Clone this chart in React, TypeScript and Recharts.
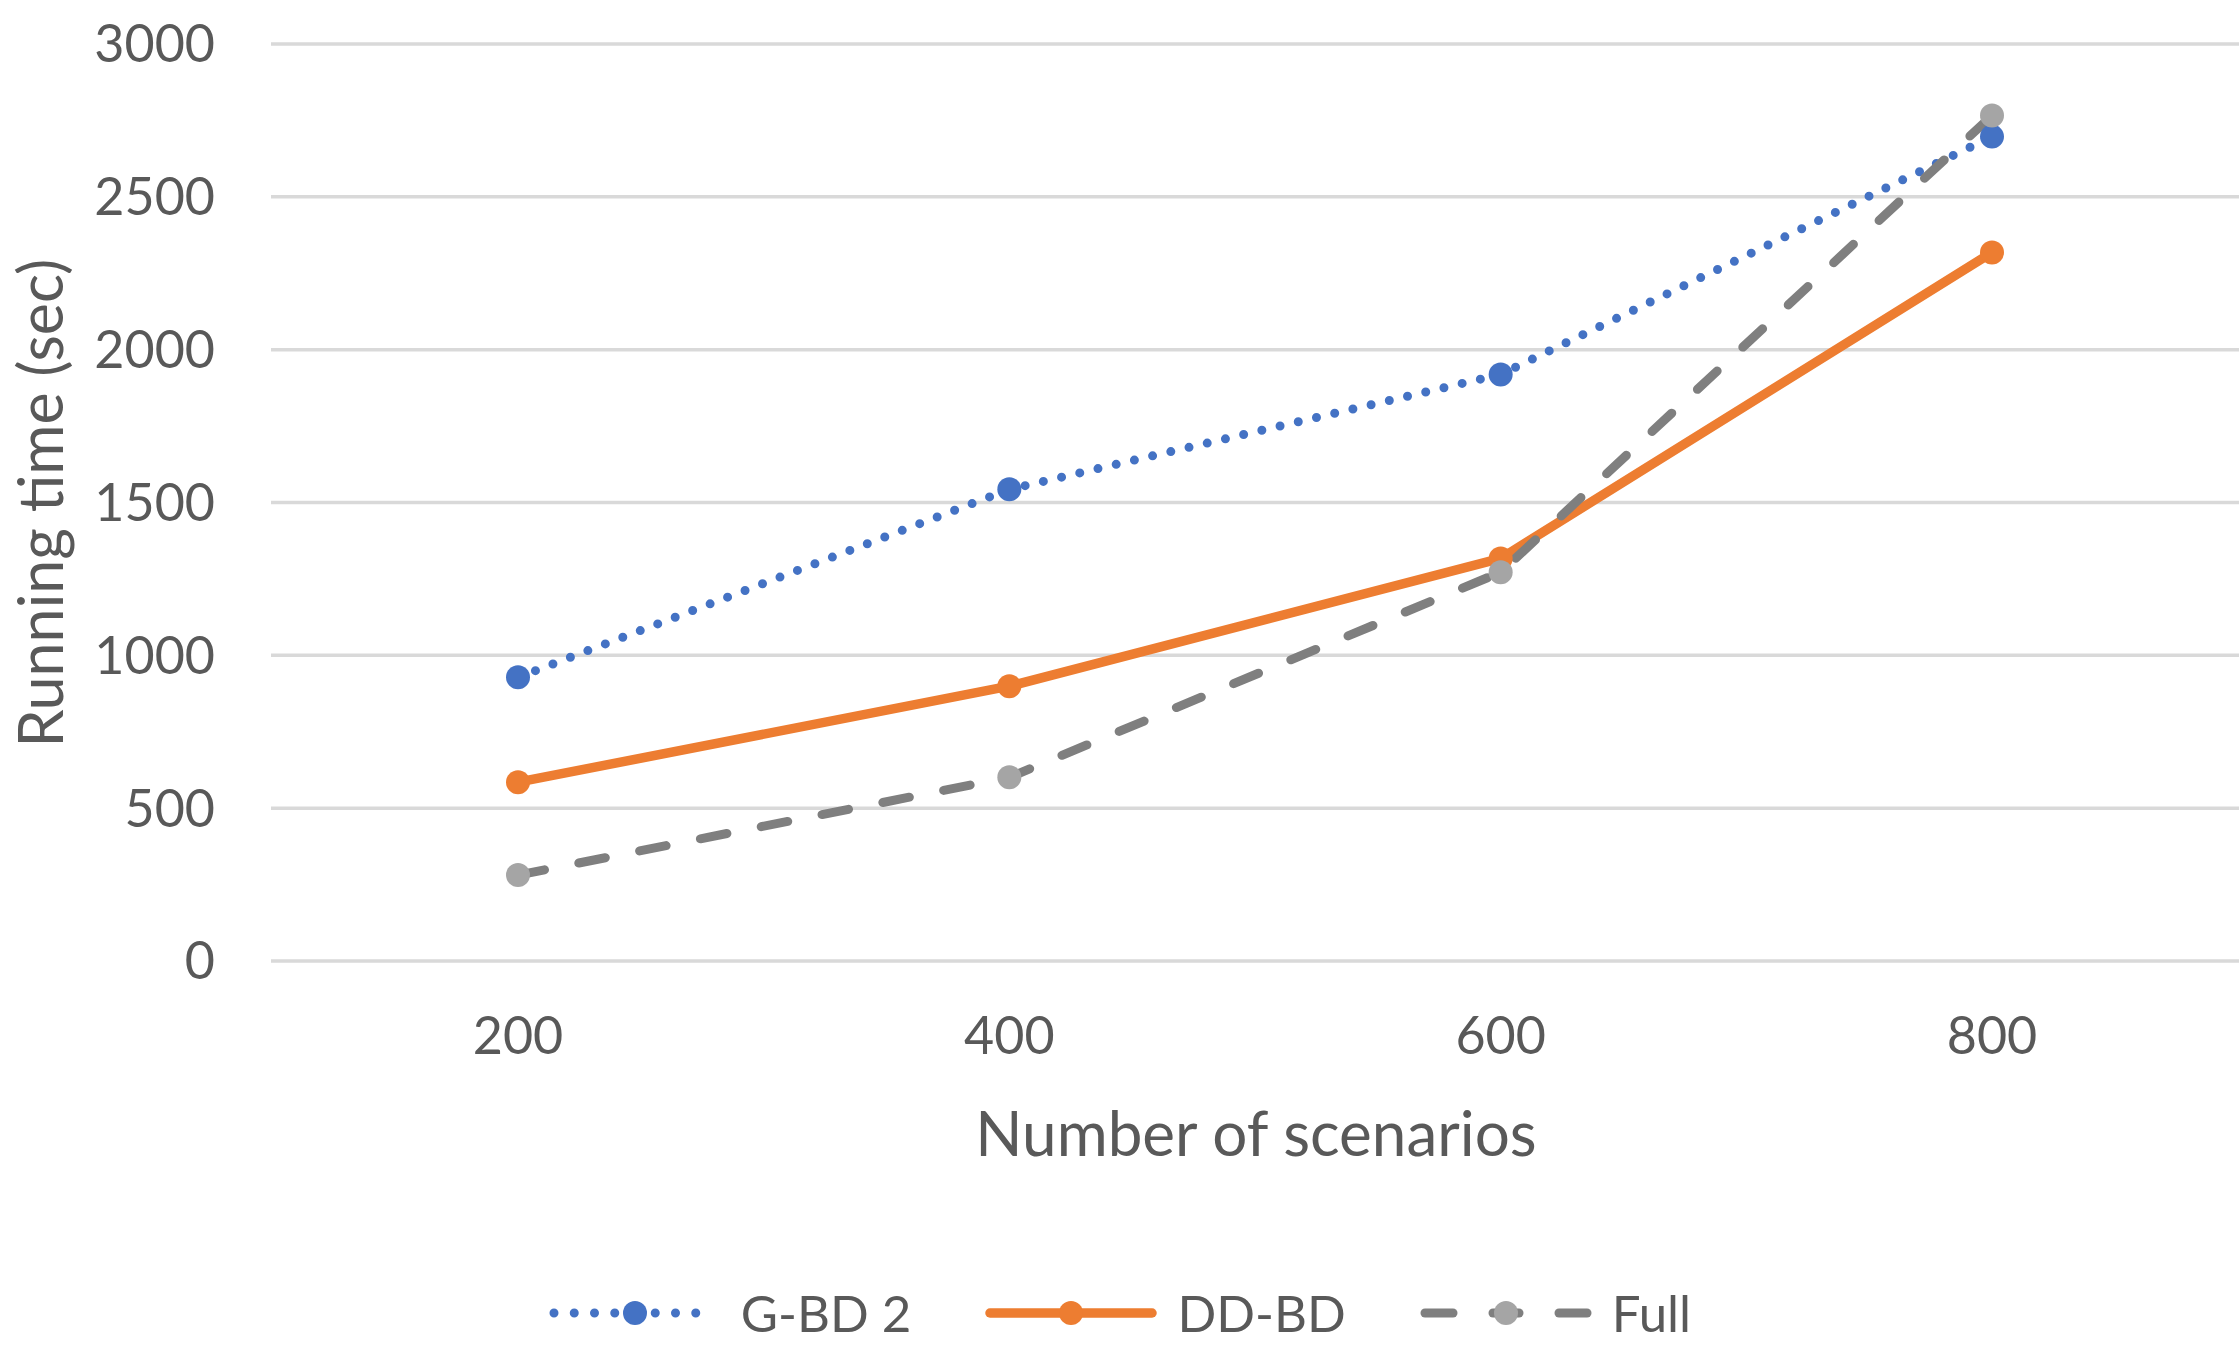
import { CartesianGrid, Legend, Line, LineChart, XAxis, YAxis } from 'recharts';

const scenarios = [200, 400, 600, 800];
const gbd2 = [928, 1543, 1919, 2697];
const ddbd = [585, 899, 1317, 2318];
const full = [281, 601, 1272, 2766];
const yTicks = [0, 500, 1000, 1500, 2000, 2500, 3000];

const data = scenarios.map((n, i) => ({
  n,
  gbd2: gbd2[i],
  ddbd: ddbd[i],
  full: full[i],
}));

const TEXT = '#595959';
const FONT = 'Lato, "Open Sans", sans-serif';
const BLUE = '#4472c4';
const ORANGE = '#ed7d31';
const GREY_LINE = '#7f7f7f';
const GREY_DOT = '#a5a5a5';

function LegendSymbol({ kind }: { kind: string }) {
  const w = 172;
  const y = 15;
  return (
    <svg width={w} height={30} style={{ display: 'block', flexShrink: 0, width: w }}>
      {kind === 'gbd2' && (
        <>
          <line x1={5} y1={y} x2={w - 5} y2={y} stroke={BLUE} strokeWidth={9}
            strokeDasharray="0 20.25" strokeLinecap="round" />
          <circle cx={w / 2} cy={y} r={12} fill={BLUE} />
        </>
      )}
      {kind === 'ddbd' && (
        <>
          <line x1={5} y1={y} x2={w - 5} y2={y} stroke={ORANGE} strokeWidth={9.5}
            strokeLinecap="round" />
          <circle cx={w / 2} cy={y} r={12} fill={ORANGE} />
        </>
      )}
      {kind === 'full' && (
        <>
          <line x1={5} y1={y} x2={33} y2={y} stroke={GREY_LINE} strokeWidth={9}
            strokeLinecap="round" />
          <line x1={w / 2 - 13} y1={y} x2={w / 2 + 13} y2={y} stroke={GREY_LINE} strokeWidth={9}
            strokeLinecap="round" />
          <line x1={w - 33} y1={y} x2={w - 5} y2={y} stroke={GREY_LINE} strokeWidth={9}
            strokeLinecap="round" />
          <circle cx={w / 2} cy={y} r={12} fill={GREY_DOT} />
        </>
      )}
    </svg>
  );
}

const legendItems = [
  { kind: 'gbd2', label: 'G-BD 2' },
  { kind: 'ddbd', label: 'DD-BD' },
  { kind: 'full', label: 'Full' },
];

function LegendContent() {
  return (
    <div
      style={{
        display: 'flex',
        justifyContent: 'center',
        alignItems: 'center',
        height: 60,
        width: 2240,
        fontFamily: FONT,
        fontSize: 51,
        color: TEXT,
      }}
    >
      {legendItems.map((it, i) => (
        <div
          key={it.kind}
          style={{
            display: 'flex',
            alignItems: 'center',
            flexShrink: 0,
            marginRight: i < legendItems.length - 1 ? 74 : 0,
          }}
        >
          <LegendSymbol kind={it.kind} />
          <span style={{ marginLeft: 20, lineHeight: '60px', whiteSpace: 'nowrap' }}>
            {it.label}
          </span>
        </div>
      ))}
    </div>
  );
}

export default function App() {
  return (
    <div style={{ position: 'absolute', left: 0, top: 0, background: '#fff' }}>
      <LineChart
        width={2240}
        height={1345}
        data={data}
        margin={{ top: 44, right: 1, left: 0, bottom: 2 }}
        style={{ fontFamily: FONT }}
      >
        <CartesianGrid vertical={false} stroke="#d9d9d9" strokeWidth={3.5} />
        <XAxis
          dataKey="n"
          type="category"
          height={322}
          padding={{ left: 247, right: 247 }}
          axisLine={false}
          tickLine={false}
          tickSize={0}
          tickMargin={56}
          tick={{ fill: TEXT, fontSize: 52, fontFamily: FONT }}
          label={{
            content: () => (
              <text x={1256} y={1156} textAnchor="middle" fill={TEXT}
                fontSize={62} fontFamily={FONT}>
                Number of scenarios
              </text>
            ),
          }}
        />
        <YAxis
          width={271}
          domain={[0, 3000]}
          ticks={yTicks}
          interval={0}
          axisLine={false}
          tickLine={false}
          tickSize={0}
          tickMargin={56}
          tick={{ fill: TEXT, fontSize: 52, fontFamily: FONT }}
          label={{
            content: () => (
              <text x={63} y={503} transform="rotate(-90 63 503)" textAnchor="middle"
                fill={TEXT} fontSize={61} fontFamily={FONT}>
                Running time (sec)
              </text>
            ),
          }}
        />
        <Legend
          verticalAlign="bottom"
          content={<LegendContent />}
          wrapperStyle={{ left: 0, width: 2240, height: 60, bottom: 2 }}
        />
        <Line
          dataKey="gbd2"
          name="G-BD 2"
          stroke={BLUE}
          strokeWidth={9}
          strokeDasharray="0 18.7"
          strokeLinecap="round"
          dot={{ r: 12, fill: BLUE, stroke: 'none', strokeWidth: 0 }}
          activeDot={false}
          isAnimationActive={false}
        />
        <Line
          dataKey="ddbd"
          name="DD-BD"
          stroke={ORANGE}
          strokeWidth={9.5}
          strokeLinecap="round"
          strokeLinejoin="round"
          dot={{ r: 12, fill: ORANGE, stroke: 'none', strokeWidth: 0 }}
          activeDot={false}
          isAnimationActive={false}
        />
        <Line
          dataKey="full"
          name="Full"
          stroke={GREY_LINE}
          strokeWidth={9}
          strokeDasharray="27 35"
          strokeLinecap="round"
          dot={{ r: 12, fill: GREY_DOT, stroke: 'none', strokeWidth: 0 }}
          activeDot={false}
          isAnimationActive={false}
        />
      </LineChart>
    </div>
  );
}
